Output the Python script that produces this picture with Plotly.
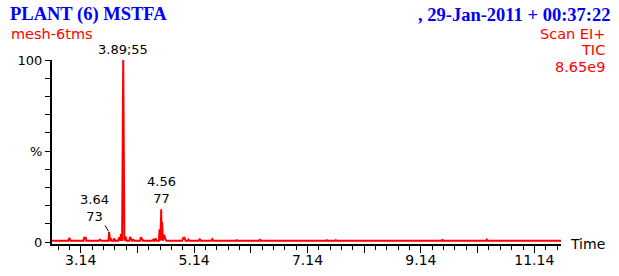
import plotly.graph_objects as go

# Chromatogram (TIC) points: retention time (min) and relative intensity (%)
times = [2.63, 2.92, 2.94, 2.96, 3.19, 3.20, 3.23, 3.24, 3.46, 3.48, 3.50,
         3.57, 3.59, 3.61, 3.63, 3.64, 3.66, 3.68, 3.69, 3.71, 3.72, 3.73, 3.75,
         3.80, 3.82, 3.84, 3.85, 3.87, 3.89, 3.91, 3.93, 3.95,
         4.00, 4.01, 4.03, 4.05, 4.07, 4.09, 4.19, 4.20, 4.22, 4.24,
         4.40, 4.42, 4.44, 4.46, 4.48, 4.52, 4.53, 4.545, 4.56, 4.567, 4.575,
         4.59, 4.61, 4.63, 4.65,
         4.93, 4.95, 4.97, 4.99, 5.03, 5.04, 5.06, 5.22, 5.24, 5.26, 5.44, 5.46, 5.48,
         5.77, 5.78, 5.79, 5.88, 5.89, 5.90, 6.29, 6.30, 6.32,
         7.47, 7.48, 7.49, 7.63, 7.64, 7.65, 9.51, 9.52, 9.53, 10.29, 10.30, 10.32, 11.61]
intensity = [0.7, 0.7, 2.2, 0.7, 0.7, 2.3, 2.3, 0.7, 0.7, 1.3, 0.7,
             0.7, 1.0, 0.7, 0.7, 5.5, 0.7, 1.4, 0.7, 0.7, 0.7, 2.0, 0.7,
             0.7, 2.5, 0.7, 4.5, 0.7, 100.0, 0.7, 3.0, 0.7,
             0.7, 2.8, 1.5, 0.7, 1.2, 0.7, 0.7, 2.6, 1.8, 0.7,
             0.7, 1.3, 0.7, 2.0, 0.7, 0.7, 7.0, 0.7, 18.0, 1.0, 11.0,
             0.7, 4.0, 1.8, 0.7,
             0.7, 2.4, 2.4, 0.7, 0.7, 1.3, 0.7, 0.7, 1.5, 0.7, 0.7, 1.6, 0.7,
             0.7, 1.1, 0.7, 0.7, 1.3, 0.7, 0.7, 1.5, 0.7,
             0.7, 1.3, 0.7, 0.7, 1.0, 0.7, 0.7, 1.4, 0.7, 0.7, 1.3, 0.7, 0.7]

x_tick_vals = [3.14, 4.14, 5.14, 6.14, 7.14, 8.14, 9.14, 10.14, 11.14]
x_tick_text = ["3.14", "", "5.14", "", "7.14", "", "9.14", "", "11.14"]
y_tick_vals = [0, 10, 20, 30, 40, 50, 60, 70, 80, 90, 100]
y_tick_text = ["0", "", "", "", "", "%", "", "", "", "", "100"]

title_left = "PLANT (6) MSTFA"
title_right = ", 29-Jan-2011 + 00:37:22"
sample_name = "mesh-6tms"
info_lines = ["Scan EI+", "TIC", "8.65e9"]

# labelled peaks: time, intensity, text
peak_main = (3.89, 100.0, "3.89;55")
peak_b = (4.56, 18.0, "4.56<br>77")
peak_c = (3.64, 5.5, "3.64<br>73")

W, H = 619, 276
L, R, T, B = 52, 58, 60, 32
pw, ph = W - L - R, H - T - B


def px(x):
    return (x - L) / pw


def py(y):
    return (H - B - y) / ph


SANS = "DejaVu Sans"
fig = go.Figure()
fig.add_trace(go.Scatter(x=times, y=intensity, mode="lines",
                         line=dict(color="#ff0000", width=2), hoverinfo="skip",
                         showlegend=False))

fig.update_layout(
    width=W, height=H, margin=dict(l=L, r=R, t=T, b=B, pad=0), autosize=False,
    paper_bgcolor="white", plot_bgcolor="white",
    font=dict(family=SANS, size=13, color="black"),
    xaxis=dict(range=[2.634, 11.61], showgrid=False, zeroline=False, automargin=False,
               showline=True, linecolor="black", linewidth=2,
               tickmode="array", tickvals=x_tick_vals, ticktext=x_tick_text,
               ticks="outside", ticklen=7, tickwidth=1, tickcolor="black",
               ticklabelstandoff=-5,
               minor=dict(tick0=3.14, dtick=0.2, ticks="outside", ticklen=4,
                          tickwidth=1, tickcolor="black", showgrid=False),
               tickfont=dict(family=SANS, size=14), fixedrange=True),
    yaxis=dict(range=[-1.1, 100], showgrid=False, zeroline=False, automargin=False,
               showline=True, linecolor="black", linewidth=2,
               tickmode="array", tickvals=y_tick_vals, ticktext=y_tick_text,
               ticks="outside", ticklen=5, tickwidth=1, tickcolor="black",
               tickfont=dict(family=SANS, size=13), fixedrange=True),
)

annots = [
    dict(x=px(8), y=py(15), xref="paper", yref="paper", xanchor="left", yanchor="middle",
         text="<b>" + title_left + "</b>", showarrow=False,
         font=dict(family="Liberation Serif", size=18.5, color="#0000ff")),
    dict(x=px(612), y=py(15), xref="paper", yref="paper", xanchor="right", yanchor="middle",
         text="<b>" + title_right + "</b>", showarrow=False,
         font=dict(family="Liberation Serif", size=18.5, color="#0000ff")),
    dict(x=px(9), y=py(34), xref="paper", yref="paper", xanchor="left", yanchor="middle",
         text=sample_name, showarrow=False,
         font=dict(family=SANS, size=14.5, color="#ff0000")),
    dict(x=px(568), y=py(244), xref="paper", yref="paper", xanchor="left", yanchor="middle",
         text="Time", showarrow=False, font=dict(family=SANS, size=14, color="black")),
]
for line, yy in zip(info_lines, [34, 50, 67]):
    annots.append(dict(x=px(607), y=py(yy), xref="paper", yref="paper", xanchor="right",
                       yanchor="middle", text=line, showarrow=False,
                       font=dict(family=SANS, size=14.5, color="#ff0000")))

annots.append(dict(x=peak_main[0], y=peak_main[1], xref="x", yref="y", xanchor="center",
                   yanchor="bottom", yshift=1, text=peak_main[2], showarrow=False))
annots.append(dict(x=peak_b[0], y=peak_b[1], xref="x", yref="y", xanchor="center",
                   yanchor="bottom", yshift=1, text=peak_b[2], showarrow=False))
annots.append(dict(x=peak_c[0], y=peak_c[1], xref="x", yref="y", text=peak_c[2],
                   showarrow=True, arrowhead=0, arrowwidth=1, arrowcolor="black",
                   ax=-15, ay=-24, standoff=1))
fig.update_layout(annotations=annots)

fig.write_html("out.html", config={"displayModeBar": False},
               post_script="document.body.style.margin='0';document.body.style.padding='0';")
